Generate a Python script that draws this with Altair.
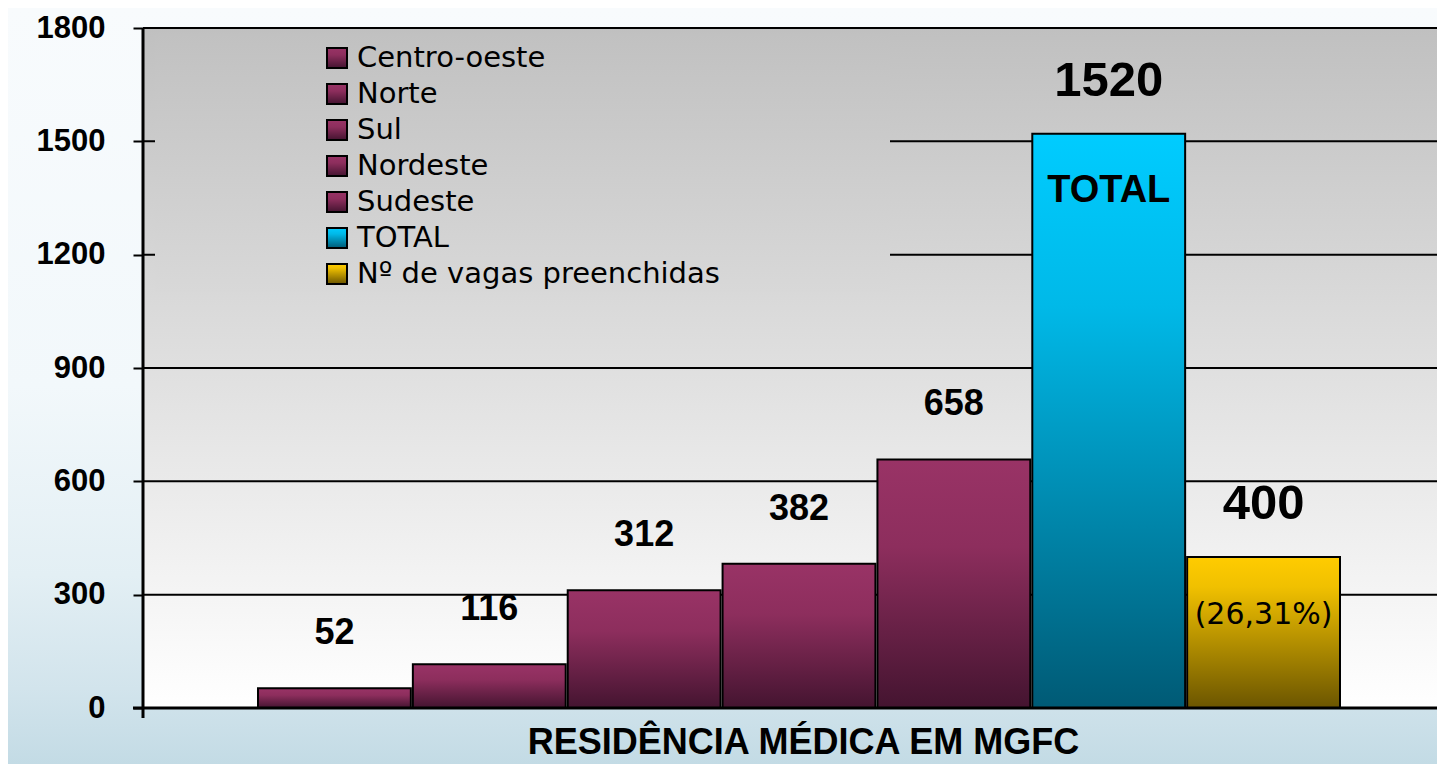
import altair as alt
import pandas as pd

# ---------------- data ----------------
categorias = ["Centro-oeste", "Norte", "Sul", "Nordeste", "Sudeste", "TOTAL", "Nº de vagas preenchidas"]
valores = [52, 116, 312, 382, 658, 1520, 400]
grupos = ["regiao", "regiao", "regiao", "regiao", "regiao", "total", "vagas"]
anotacoes = ["", "", "", "", "", "TOTAL", "(26,31%)"]
y_ticks = [0, 300, 600, 900, 1200, 1500, 1800]
grid_values = [300, 600, 900, 1200, 1500, 1800]
titulo_x = "RESIDÊNCIA MÉDICA EM MGFC"

df = pd.DataFrame({"categoria": categorias, "valor": valores, "grupo": grupos, "anotacao": anotacoes})
grid_df = pd.DataFrame({"valor": grid_values})
one = alt.Data(values=[{"k": 0}])

W, H = 1294, 680
PB = 56
BOLD = "Liberation Sans, Arial, sans-serif"
SANS = "DejaVu Sans, Verdana, sans-serif"


def grad(stops):
    return alt.LinearGradient(
        gradient="linear", x1=0, y1=0, x2=0, y2=1,
        stops=[alt.GradientStop(offset=o, color=c) for o, c in stops],
    )


maroon = grad([(0, "#993366"), (0.35, "#8d2e5d"), (1, "#441430")])
cyan = grad([(0, "#00ccff"), (0.3, "#00b9e8"), (1, "#005a75")])
gold = grad([(0, "#ffcc00"), (0.2, "#f0c000"), (1, "#6b5500")])
plot_bg_grad = grad([(0, "#c0c0c0"), (1, "#ffffff")])
legend_bg_grad = grad([(0, "#c1c1c1"), (1, "#d8d8d8")])
page_grad = grad([(0, "#f8fbfd"), (0.5, "#f2f8fb"), (0.75, "#e3eff4"), (0.9, "#d2e4ec"), (1, "#c3dbe5")])

x_enc = alt.X(
    "categoria:N", sort=categorias,
    scale=alt.Scale(range=[115, 1197], paddingInner=0.013, paddingOuter=0),
    axis=alt.Axis(title=titulo_x, labels=False, ticks=False, domain=False, grid=False,
                  titleFont=BOLD, titleFontSize=36, titleFontWeight="bold", titleColor="black",
                  titlePadding=17, titleX=660, zindex=1),
)
y_scale = alt.Scale(domain=[0, 1800], nice=False, zero=True)
y_enc = alt.Y(
    "valor:Q", scale=y_scale,
    axis=alt.Axis(values=y_ticks, format="d", title=None, grid=False, domain=False,
                  ticks=True, tickSize=10, tickWidth=2, tickColor="black",
                  labelFont=BOLD, labelFontSize=31, labelFontWeight="bold", labelColor="black",
                  labelPadding=28, zindex=1),
)

# ---------------- decorations ----------------
page_bg = alt.Chart(one).mark_rect(fill=page_grad).encode(
    x=alt.value(-135), x2=alt.value(W), y=alt.value(-20), y2=alt.value(H + PB))
plot_bg = alt.Chart(one).mark_rect(fill=plot_bg_grad).encode(
    x=alt.value(0), x2=alt.value(W), y=alt.value(0), y2=alt.value(H))
grid = alt.Chart(grid_df).mark_rule(color="black", strokeWidth=2).encode(
    x=alt.value(0), x2=alt.value(W), y=y_enc)
legend_box = alt.Chart(one).mark_rect(fill=legend_bg_grad).encode(
    x=alt.value(12), x2=alt.value(747), y=alt.value(6), y2=alt.value(264))

base = alt.Chart(df)


def bars(g, fill):
    return base.transform_filter(alt.datum.grupo == g).mark_bar(
        fill=fill, stroke="black", strokeWidth=2).encode(x=x_enc, y=y_enc)


bars_reg = bars("regiao", maroon)
bars_tot = bars("total", cyan)
bars_vag = bars("vagas", gold)

lbl_small = base.transform_filter(alt.datum.grupo == "regiao").mark_text(
    font=BOLD, fontSize=36, fontWeight="bold", color="black", dy=-55, baseline="middle"
).encode(x=x_enc, y=y_enc, text=alt.Text("valor:Q", format="d"))
lbl_big = base.transform_filter(alt.datum.grupo != "regiao").mark_text(
    font=BOLD, fontSize=49, fontWeight="bold", color="black", dy=-53, baseline="middle"
).encode(x=x_enc, y=y_enc, text=alt.Text("valor:Q", format="d"))
txt_total = base.transform_filter(alt.datum.grupo == "total").mark_text(
    font=BOLD, fontSize=38, fontWeight="bold", color="black", dy=57, baseline="middle"
).encode(x=x_enc, y=y_enc, text="anotacao:N")
txt_pct = base.transform_filter(alt.datum.grupo == "vagas").mark_text(
    font=SANS, fontSize=30, color="black", dy=58, baseline="middle"
).encode(x=x_enc, y=y_enc, text="anotacao:N")

x_axis_line = alt.Chart(one).mark_rule(color="black", strokeWidth=3).encode(
    x=alt.value(-10), x2=alt.value(W), y=alt.value(H))
y_axis_line = alt.Chart(one).mark_rule(color="black", strokeWidth=3).encode(
    x=alt.value(0), y=alt.value(0), y2=alt.value(H + 10))

main = alt.layer(page_bg, plot_bg, grid, legend_box, bars_reg, bars_tot, bars_vag,
                 lbl_small, lbl_big, txt_total, txt_pct, x_axis_line, y_axis_line)

# ---------------- legend ----------------
leg_y = alt.Y("categoria:N", sort=categorias,
              scale=alt.Scale(type="point", range=[30, 246], padding=0), axis=None)


def leg_sq(g, fill):
    return base.transform_filter(alt.datum.grupo == g).mark_square(
        size=400, fill=fill, filled=True, stroke="black", strokeWidth=2, opacity=1
    ).encode(x=alt.value(194), y=leg_y)


leg_txt = base.mark_text(font=SANS, fontSize=29, color="black", align="left", baseline="middle").encode(
    x=alt.value(214), y=leg_y, text="categoria:N")

legend = alt.layer(leg_sq("regiao", maroon), leg_sq("total", cyan), leg_sq("vagas", gold), leg_txt)

chart = alt.layer(main, legend).resolve_scale(y="independent").properties(
    width=W, height=H,
    padding={"left": 135, "top": 20, "right": 0, "bottom": PB},
    autosize=alt.AutoSizeParams(type="none"),
    background="#f4f9fc",
).configure_view(stroke=None)

chart.save("out.html", embed_options={"renderer": "svg", "actions": False})
